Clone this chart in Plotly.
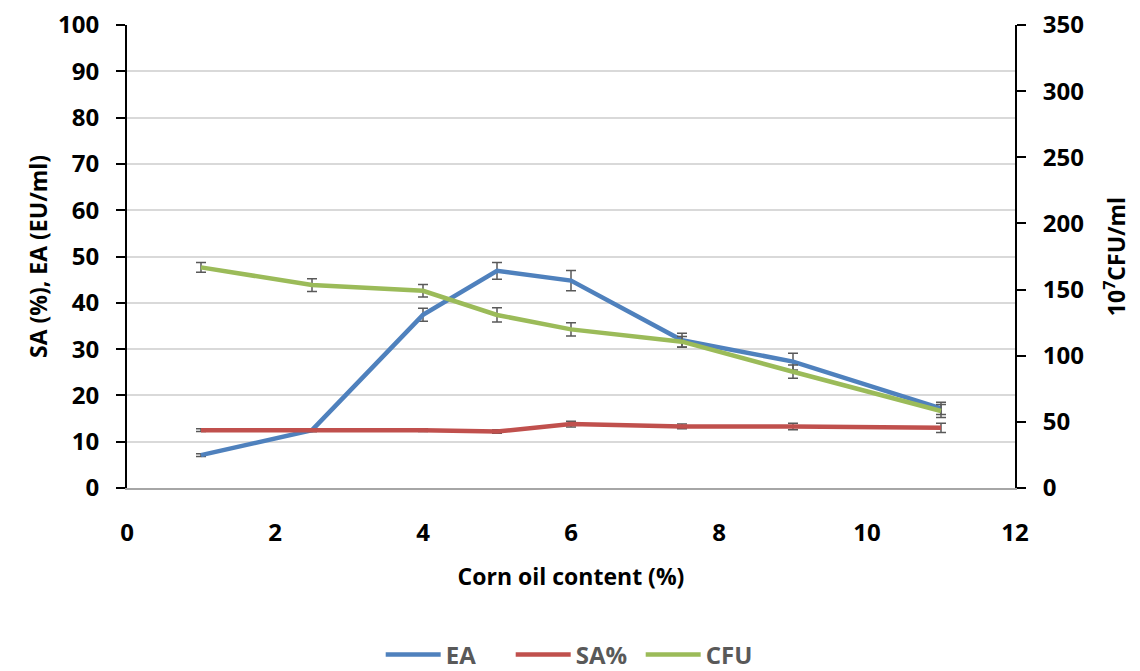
import plotly.graph_objects as go

x_oil = [1, 2.5, 4, 5, 6, 7.5, 9, 11]
ea = [7.1, 12.5, 37.4, 46.9, 44.8, 31.9, 27.3, 17.2]
ea_err = [0.3, 0.3, 1.4, 1.8, 2.2, 1.5, 1.8, 1.3]
sa = [12.5, 12.5, 12.5, 12.2, 13.8, 13.3, 13.3, 13.0]
sa_err = [0.3, 0.3, 0.3, 0.4, 0.6, 0.5, 0.7, 1.0]
cfu = [166.8, 153.4, 149.1, 130.8, 119.9, 110.6, 87.9, 58.2]
cfu_err = [3.7, 4.8, 4.7, 5.4, 5.0, 4.0, 5.0, 5.0]

FONT = "Open Sans"
errstyle = dict(type="data", color="#595959", thickness=1.5, width=5)

fig = go.Figure()
fig.add_trace(go.Scatter(x=x_oil, y=ea, name="EA", mode="lines",
                         line=dict(color="#4f81bd", width=4.5),
                         error_y=dict(array=ea_err, **errstyle)))
fig.add_trace(go.Scatter(x=x_oil, y=sa, name="SA%", mode="lines",
                         line=dict(color="#c0504d", width=4.5),
                         error_y=dict(array=sa_err, **errstyle)))
fig.add_trace(go.Scatter(x=x_oil, y=cfu, name="CFU", mode="lines", yaxis="y2",
                         line=dict(color="#9bbb59", width=4.5),
                         error_y=dict(array=cfu_err, **errstyle)))

tickfont = dict(family=FONT, size=24, color="#000000", weight="bold")
titlefont = dict(family=FONT, size=23, color="#000000", weight="bold")

fig.update_layout(
    width=1140, height=671,
    margin=dict(l=127, r=125, t=25, b=183, autoexpand=False),
    paper_bgcolor="white", plot_bgcolor="white",
    showlegend=True,
    legend=dict(orientation="h", x=0.505, xanchor="center", xref="container",
                y=0.024, yanchor="middle", yref="container",
                font=dict(family=FONT, size=24, color="#595959", weight="bold"),
                itemwidth=55, entrywidth=60, entrywidthmode="pixels",
                traceorder="normal"),
    xaxis=dict(range=[0, 12], dtick=2, tickfont=tickfont,
               title=dict(text="Corn oil content (%)", font=titlefont, standoff=22),
               showline=True, linecolor="#a6a6a6", linewidth=2,
               showgrid=False, zeroline=False, ticks="", ticklabelstandoff=22),
    yaxis=dict(range=[0, 100], dtick=10, tickfont=tickfont,
               title=dict(text="SA (%), EA (EU/ml)", font=titlefont, standoff=4),
               showline=True, linecolor="#000000", linewidth=2,
               ticks="outside", ticklen=9, tickwidth=2, tickcolor="#000000",
               ticklabelstandoff=12,
               showgrid=True, gridcolor="#d9d9d9", gridwidth=1.5, zeroline=False),
    yaxis2=dict(range=[0, 350], dtick=50, overlaying="y", side="right",
                tickfont=tickfont,
                title=dict(text="10<sup>7</sup>CFU/ml", font=titlefont, standoff=26),
                showline=True, linecolor="#000000", linewidth=2,
                ticks="outside", ticklen=9, tickwidth=2, tickcolor="#000000",
                ticklabelstandoff=12,
                showgrid=False, zeroline=False),
)

fig.write_html("out.html")
